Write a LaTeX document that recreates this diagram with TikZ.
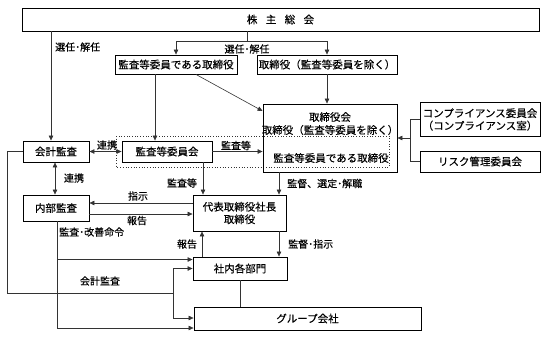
\documentclass[tikz,border=0pt]{standalone}
\usepackage{fontspec}
\newfontfamily\jp[FakeBold=0.3]{Noto Sans CJK JP}
\usetikzlibrary{arrows.meta}
\begin{document}
\begin{tikzpicture}[x=1pt,y=-1pt,
 box/.style={draw, line width=0.9pt, inner sep=0pt, font=\jp\fontsize{10.5}{12.5}\selectfont, align=center},
 lbl/.style={font=\jp\fontsize{10}{12}\selectfont, inner sep=0pt},
 con/.style={line width=0.6pt, draw=black!80},
 arr/.style={con, -{Triangle[length=5pt,width=4.5pt]}},
 darr/.style={con, {Triangle[length=5pt,width=4.5pt]}-{Triangle[length=5pt,width=4.5pt]}},
 dotbox/.style={draw=black!80, line width=0.7pt, dotted},
]
\useasboundingbox (0,0) rectangle (549,338);

% boxes
\node[box, minimum width=517pt, minimum height=23pt] (sh) at (280.5,19.5) {株\hspace{0.8em}主\hspace{0.8em}総\hspace{0.8em}会};
\node[box, minimum width=122pt, minimum height=19pt] (kd) at (176,64.5) {監査等委員である取締役};
\node[box, minimum width=140pt, minimum height=19pt] (td) at (327,64.5) {取締役（監査等委員を除く）};
\draw[dotbox] (116,136) rectangle (389,167);
\node[box, minimum width=134pt, minimum height=68pt] (bd) at (330,138) {};
\node[lbl, font=\jp\fontsize{10.5}{12}\selectfont] (bd1) at (330,117) {取締役会};
\node[lbl, font=\jp\fontsize{10.5}{12}\selectfont] (bd2) at (330,130) {取締役（監査等委員を除く）};
\node[lbl, font=\jp\fontsize{10.5}{12}\selectfont] (bd3) at (331,158) {監査等委員である取締役};
\node[box, minimum width=120pt, minimum height=34pt] (cc) at (480,119.5) {コンプライアンス委員会\\（コンプライアンス室）};
\node[box, minimum width=120pt, minimum height=21pt] (rk) at (480,161.5) {リスク管理委員会};
\node[box, minimum width=66pt, minimum height=21pt] (ka) at (56,151.5) {会計監査};
\node[box, minimum width=90pt, minimum height=21pt] (ac) at (167,151.5) {監査等委員会};
\node[box, minimum width=66pt, minimum height=26pt] (ia) at (56,208) {内部監査};
\node[box, minimum width=93pt, minimum height=36pt] (ceo) at (239.5,213) {代表取締役社長\\取締役};
\node[box, minimum width=94pt, minimum height=23pt] (dp) at (240,268.5) {社内各部門};
\node[box, minimum width=227pt, minimum height=23pt] (gr) at (307.5,318.5) {グループ会社};

% guide coordinates
\coordinate (gA) at (51,0);
\coordinate (gB) at (55,0);
\coordinate (gC) at (155,0);
\coordinate (gD) at (203,0);
\coordinate (gE) at (279,0);
\coordinate (gF) at (202,0);
\coordinate (gG) at (57,0);
\coordinate (gH) at (7,0);
\coordinate (gI) at (173,0);
\coordinate (gK) at (410,0);
\coordinate (gS) at (247,0);
\coordinate (gT) at (196,0);
\coordinate (hT) at (0,41);
\coordinate (hD) at (0,111);
\coordinate (h203) at (0,203);
\coordinate (h214) at (0,214);
\coordinate (h259) at (0,259.5);
\coordinate (h268) at (0,268.5);
\coordinate (h293) at (0,293);
\coordinate (h318) at (0,318);
\coordinate (h328) at (0,328);
\coordinate (hB) at (0,138);

% shareholders
\draw[arr] (gA |- sh.south) -- (gA |- ka.north);
\draw[con] (gS |- sh.south) -- (gS |- hT);
\draw[con] (kd.north |- hT) -- (td.north |- hT);
\draw[arr] (kd.north |- hT) -- (kd.north);
\draw[arr] (td.north |- hT) -- (td.north);
\node[lbl, anchor=west] (l1) at (55,47) {選任･解任};
\node[lbl] (l2) at (247,49) {選任･解任};

% directors
\draw[arr] (gC |- kd.south) -- (gC |- ac.north);
\draw[arr] (gT |- kd.south) -- (bd.west |- hD);
\draw[arr] (td.south) -- (td.south |- bd.north);

% audit links
\draw[darr] (ka.east) -- (ac.west);
\node[lbl] (l3) at (107,145) {連携};
\draw[arr] (ac.east) -- (ac.east -| bd.west);
\node[lbl] (l4) at (236,145.5) {監査等};
\draw[darr] (gB |- ka.south) -- (gB |- ia.north);
\node[lbl] (l5) at (74,178) {連携};

% compliance bracket
\draw[con] (cc.west) -- (gK |- cc.west) -- (gK |- rk.west) -- (rk.west);
\draw[arr] (gK |- hB) -- (bd.east |- hB);

% ceo
\draw[arr] (gD |- ac.south) -- (gD |- ceo.north);
\node[lbl] (l6) at (182,183) {監査等};
\draw[arr] (gE |- bd.south) -- (gE |- ceo.north);
\node[lbl, anchor=west] (l7) at (287,183.5) {監督、選定･解職};
\draw[arr] (ceo.west |- h203) -- (ia.east |- h203);
\node[lbl] (l8) at (138,196) {指示};
\draw[arr] (ia.east |- h214) -- (ceo.west |- h214);
\node[lbl] (l9) at (137,220.5) {報告};

% departments
\draw[arr] (gE |- ceo.south) -- (gE |- dp.north);
\node[lbl, anchor=west] (l10) at (288,244) {監督･指示};
\draw[arr] (gF |- dp.north) -- (gF |- ceo.south);
\node[lbl] (l11) at (187,244) {報告};
\draw[con] (dp.south) -- (dp.south |- gr.north);

% internal audit lines
\draw[con] (gG |- ia.south) -- (gG |- h328);
\draw[arr] (gG |- h259) -- (dp.west |- h259);
\draw[arr] (gG |- h328) -- (gr.west |- h328);
\node[lbl, anchor=west] (l12) at (59,232) {監査･改善命令};

% accounting audit lines
\draw[con] (ka.west) -- (gH |- ka.west) -- (gH |- h293) -- (gI |- h293);
\draw[con] (gI |- h268) -- (gI |- h318);
\draw[arr] (gI |- h268) -- (dp.west |- h268);
\draw[arr] (gI |- h318) -- (gr.west |- h318);
\node[lbl] (l13) at (100,281) {会計監査};
\end{tikzpicture}
\end{document}
